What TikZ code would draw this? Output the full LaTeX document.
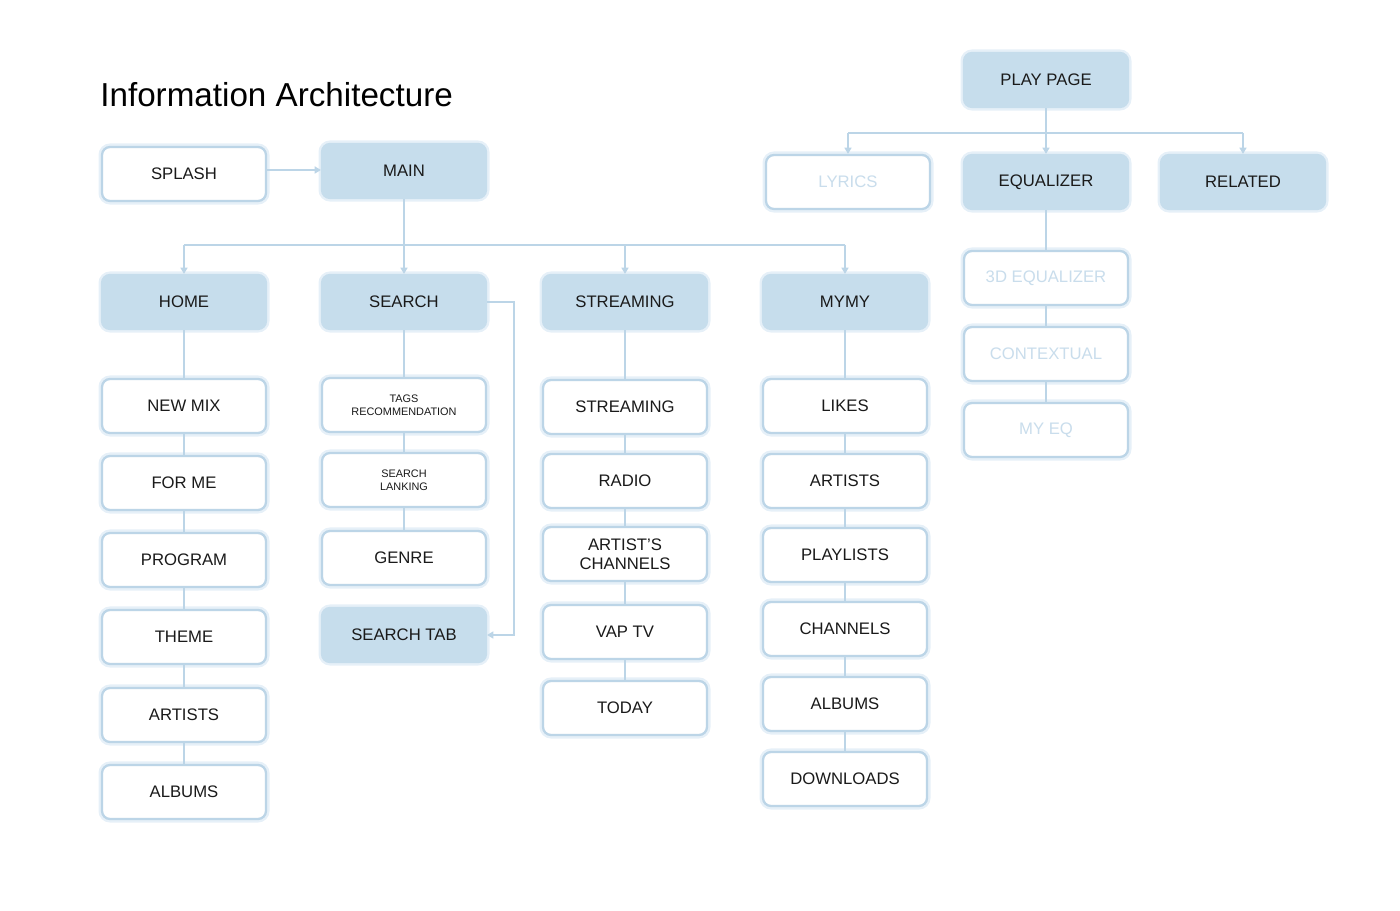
\documentclass[tikz,border=0pt]{standalone}
\usepackage{fontspec}
\setmainfont{Liberation Sans}
\usetikzlibrary{arrows.meta}

\definecolor{ialine}{HTML}{BCD5E7}
\definecolor{iafill}{HTML}{C6DDEC}
\definecolor{iaglow}{HTML}{E6F0F8}
\definecolor{iafade}{HTML}{C9DDEC}
\definecolor{iatext}{HTML}{1A1A1A}

\tikzset{
  page/.style={draw=ialine, line width=1.3pt, fill=white, rounded corners=0.16cm,
    minimum width=3.28cm, minimum height=1.08cm, align=center,
    font=\fontsize{9.5}{11}\selectfont, text=iatext,
    preaction={draw=iaglow, line width=4pt}},
  tab/.style={page, draw=iafill, fill=iafill},
  faded/.style={page, text=iafade},
  tiny/.style={font=\fontsize{6.2}{7.2}\selectfont},
  link/.style={draw=ialine, line width=0.8pt},
  arr/.style={link, -{Triangle[width=4pt,length=3.5pt]}}
}

\begin{document}
\begin{tikzpicture}[x=0.02cm, y=-0.02cm]
 \useasboundingbox (0,0) rectangle (1400,911);
 \node[anchor=base west, inner sep=0pt, font=\fontsize{18.9}{22}\selectfont, text=black] (title) at (100,107) {Information Architecture};

 \node[page] (splash) at (184,174) {SPLASH};
 \node[tab] (main) at (404,171) {MAIN};

 \node[tab] (home) at (184,302) {HOME};
 \node[tab] (search) at (404,302) {SEARCH};
 \node[tab] (stream) at (625,302) {STREAMING};
 \node[tab] (mymy) at (845,302) {MYMY};

 % home
 \node[page] (h1) at (184,406) {NEW MIX};
 \node[page] (h2) at (184,483) {FOR ME};
 \node[page] (h3) at (184,560) {PROGRAM};
 \node[page] (h4) at (184,637) {THEME};
 \node[page] (h5) at (184,715) {ARTISTS};
 \node[page] (h6) at (184,792) {ALBUMS};

 % search
 \node[page,tiny] (s1) at (404,405) {TAGS\\RECOMMENDATION};
 \node[page,tiny] (s2) at (404,480) {SEARCH\\LANKING};
 \node[page] (s3) at (404,558) {GENRE};
 \node[tab] (s4) at (404,635) {SEARCH TAB};

 % streaming
 \node[page] (t1) at (625,407) {STREAMING};
 \node[page] (t2) at (625,481) {RADIO};
 \node[page] (t3) at (625,554) {ARTIST'S\\CHANNELS};
 \node[page] (t4) at (625,632) {VAP TV};
 \node[page] (t5) at (625,708) {TODAY};

 % mymy
 \node[page] (m1) at (845,406) {LIKES};
 \node[page] (m2) at (845,481) {ARTISTS};
 \node[page] (m3) at (845,555) {PLAYLISTS};
 \node[page] (m4) at (845,629) {CHANNELS};
 \node[page] (m5) at (845,704) {ALBUMS};
 \node[page] (m6) at (845,779) {DOWNLOADS};

 % play page
 \node[tab] (play) at (1046,80) {PLAY PAGE};
 \node[faded] (lyrics) at (848,182) {LYRICS};
 \node[tab] (eq) at (1046,182) {EQUALIZER};
 \node[tab] (related) at (1243,182) {RELATED};
 \node[faded] (e1) at (1046,278) {3D EQUALIZER};
 \node[faded] (e2) at (1046,354) {CONTEXTUAL};
 \node[faded] (e3) at (1046,430) {MY EQ};

 \draw[arr] (splash.east |- 0,170) -- (main.west |- 0,170);
 \coordinate (bus) at (404,245);
 \draw[link] (main) -- (bus);
 \draw[link] (bus -| home) -- (bus -| mymy);
 \foreach \n in {home,search,stream,mymy} \draw[arr] (bus -| \n) -- (\n.north);

 \draw[link] (home) -- (h1) -- (h2) -- (h3) -- (h4) -- (h5) -- (h6);
 \draw[link] (search) -- (s1) -- (s2) -- (s3);
 \draw[link] (stream) -- (t1) -- (t2) -- (t3) -- (t4) -- (t5);
 \draw[link] (mymy) -- (m1) -- (m2) -- (m3) -- (m4) -- (m5) -- (m6);

 \coordinate (side) at (514,302);
 \draw[arr] (search.east) -- (side) |- (s4.east);

 \coordinate (top) at (1046,133);
 \draw[link] (play) -- (top);
 \draw[link] (top -| lyrics) -- (top -| related);
 \foreach \n in {lyrics,eq,related} \draw[arr] (top -| \n) -- (\n.north);
 \draw[link] (eq) -- (e1) -- (e2) -- (e3);
\end{tikzpicture}
\end{document}
